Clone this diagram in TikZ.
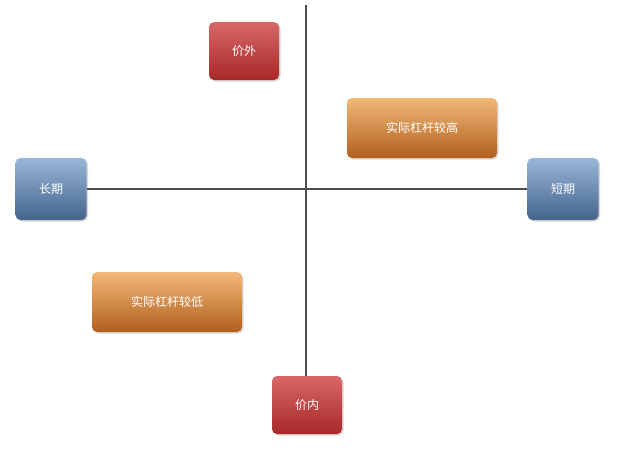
\documentclass[tikz,border=0pt]{standalone}
\usepackage{fontspec}
\newfontfamily\cjk{Noto Sans CJK SC}
\usetikzlibrary{shadows}
\definecolor{rtop}{HTML}{D86868}\definecolor{rbot}{HTML}{A82828}
\definecolor{otop}{HTML}{F2B878}\definecolor{obot}{HTML}{B0601E}
\definecolor{btop}{HTML}{98B6D6}\definecolor{bbot}{HTML}{44648C}
\tikzset{
 box/.style={rounded corners=5pt,text=white,font=\cjk\fontsize{12}{14}\selectfont,inner sep=0pt,drop shadow={shadow xshift=1.5pt,shadow yshift=-1.5pt,opacity=0.3}},
 redbox/.style={box,top color=rtop,bottom color=rbot,minimum width=70pt,minimum height=58pt},
 orbox/.style={box,top color=otop,bottom color=obot,minimum width=150pt,minimum height=60pt},
 bluebox/.style={box,top color=btop,bottom color=bbot,minimum width=71pt,minimum height=62pt},
 axis/.style={draw=black!70,line width=2.5pt}
}
\begin{document}
\begin{tikzpicture}[x=1pt,y=-1pt]
\useasboundingbox (0,0) rectangle (618,450);
\coordinate (top) at (306,5);
\coordinate (bot) at (306,400);
\node[bluebox] (long) at (51,189) {长期};
\node[bluebox] (short) at (563,189) {短期};
\draw[axis] (top) -- (bot);
\draw[axis] (long.east) -- (short.west);
\node[redbox] (out) at (244,51) {价外};
\node[redbox] (in) at (307,405) {价内};
\node[orbox] (hi) at (422,128) {实际杠杆较高};
\node[orbox] (lo) at (167,302) {实际杠杆较低};
\end{tikzpicture}
\end{document}
